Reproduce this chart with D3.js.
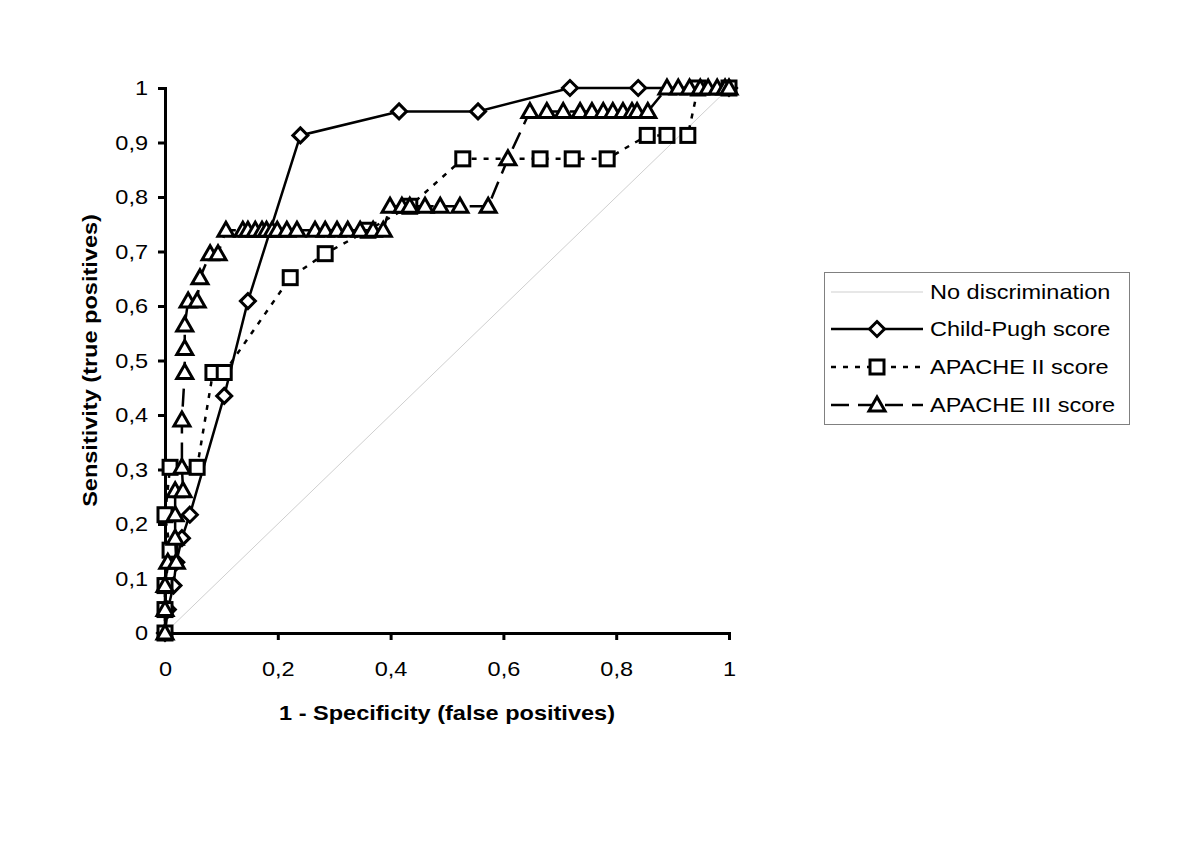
<!DOCTYPE html>
<html>
<head>
<meta charset="utf-8">
<script src="https://cdn.jsdelivr.net/npm/d3@7"></script>
<style>
  body { margin: 0; background: #fff; }
  text { font-family: "Liberation Sans", Arial, sans-serif; }
</style>
</head>
<body>
<script>
// ROC points (x = 1 - specificity, y = sensitivity)
const childPughX = [0, 0.005, 0.015, 0.02, 0.03, 0.044, 0.105, 0.147, 0.24, 0.415, 0.555, 0.718, 0.839, 1];
const childPughY = [0, 0.043, 0.087, 0.13, 0.174, 0.217, 0.435, 0.609, 0.913, 0.957, 0.957, 1, 1, 1];

const apache2X = [0, 0, 0, 0.009, 0, 0.009, 0.057, 0.085, 0.105, 0.222, 0.284, 0.36, 0.434, 0.528, 0.665, 0.722, 0.784, 0.855, 0.89, 0.927, 0.945, 1];
const apache2Y = [0, 0.043, 0.087, 0.152, 0.217, 0.304, 0.304, 0.478, 0.478, 0.652, 0.696, 0.739, 0.783, 0.87, 0.87, 0.87, 0.87, 0.913, 0.913, 0.913, 1, 1];

const apache3X = [0, 0, 0, 0.005, 0.02, 0.018, 0.018, 0.018, 0.032, 0.03, 0.03, 0.035, 0.035, 0.035, 0.041, 0.057, 0.062, 0.08, 0.094,
  0.108, 0.138, 0.147, 0.16, 0.172, 0.18, 0.19, 0.199, 0.216, 0.234, 0.266, 0.284, 0.305, 0.324, 0.346, 0.369, 0.387,
  0.399, 0.42, 0.434, 0.461, 0.488, 0.523, 0.573,
  0.608,
  0.647, 0.677, 0.706, 0.736, 0.757, 0.777, 0.794, 0.812, 0.828, 0.837, 0.856,
  0.89, 0.91, 0.93, 0.949, 0.963, 0.979, 0.993, 1];
const apache3Y = [0, 0.043, 0.087, 0.13, 0.13, 0.174, 0.217, 0.261, 0.261, 0.304, 0.391, 0.478, 0.522, 0.565, 0.609, 0.609, 0.652, 0.696, 0.696,
  0.739, 0.739, 0.739, 0.739, 0.739, 0.739, 0.739, 0.739, 0.739, 0.739, 0.739, 0.739, 0.739, 0.739, 0.739, 0.739, 0.739,
  0.783, 0.783, 0.783, 0.783, 0.783, 0.783, 0.783,
  0.87,
  0.957, 0.957, 0.957, 0.957, 0.957, 0.957, 0.957, 0.957, 0.957, 0.957, 0.957,
  1, 1, 1, 1, 1, 1, 1, 1];

const xTicks = [0, 0.2, 0.4, 0.6, 0.8, 1];
const yTicks = [0, 0.1, 0.2, 0.3, 0.4, 0.5, 0.6, 0.7, 0.8, 0.9, 1];
const legendLabels = ["No discrimination", "Child-Pugh score", "APACHE II score", "APACHE III score"];

const width = 1199;
const height = 857;
const marginLeft = 165;
const marginTop = 88;
const plotW = 564;
const plotH = 545;
const stretch = 1.12; // the source text is a bit wider than Liberation Sans

const x = d3.scaleLinear().domain([0, 1]).range([marginLeft, marginLeft + plotW]);
const y = d3.scaleLinear().domain([0, 1]).range([marginTop + plotH, marginTop]);

const fmt = d => d3.format("~g")(d).replace(".", ",");

const svg = d3.select("body").append("svg")
    .attr("width", width)
    .attr("height", height);

function widen(sel) {
  sel.each(function() {
    const w = this.getComputedTextLength();
    d3.select(this).attr("textLength", w * stretch).attr("lengthAdjust", "spacingAndGlyphs");
  });
}

// diagonal reference
svg.append("line")
    .attr("x1", x(0)).attr("y1", y(0))
    .attr("x2", x(1)).attr("y2", y(1))
    .attr("stroke", "#cfcfcf")
    .attr("stroke-width", 1);

// axes
svg.append("g")
    .attr("transform", `translate(0,${y(0)})`)
    .call(d3.axisBottom(x).tickValues(xTicks).tickFormat(fmt).tickSize(7).tickPadding(21))
    .call(g => g.select(".domain").attr("stroke", "#000").attr("stroke-width", 3))
    .call(g => g.selectAll(".tick line").attr("stroke-width", 3))
    .call(g => g.selectAll("text").attr("font-size", 21).attr("fill", "#000")
        .style("font-family", "'Liberation Sans', Arial, sans-serif").call(widen));

svg.append("g")
    .attr("transform", `translate(${x(0)},0)`)
    .call(d3.axisLeft(y).tickValues(yTicks).tickFormat(fmt).tickSize(7).tickPadding(10))
    .call(g => g.select(".domain").attr("stroke", "#000").attr("stroke-width", 3))
    .call(g => g.selectAll(".tick line").attr("stroke-width", 3))
    .call(g => g.selectAll("text").attr("font-size", 21).attr("fill", "#000")
        .style("font-family", "'Liberation Sans', Arial, sans-serif").call(widen));

// axis titles
svg.append("text")
    .attr("x", x(0.5))
    .attr("y", 720)
    .attr("text-anchor", "middle")
    .attr("font-size", 21)
    .attr("font-weight", "bold")
    .text("1 - Specificity (false positives)")
    .call(widen);

svg.append("text")
    .attr("transform", `translate(97,${y(0.5)}) rotate(-90)`)
    .attr("text-anchor", "middle")
    .attr("font-size", 21)
    .attr("font-weight", "bold")
    .text("Sensitivity (true positives)")
    .call(widen);

const dashII = "5 7";
const dashIII = "18 9";

const series = [
  { xs: childPughX, ys: childPughY, dash: null, shape: "diamond" },
  { xs: apache2X, ys: apache2Y, dash: dashII, shape: "square" },
  { xs: apache3X, ys: apache3Y, dash: dashIII, shape: "triangle" }
];

function marker(g, shape, cx, cy) {
  if (shape === "diamond") {
    g.append("path").attr("d", `M${cx},${cy - 7.5}L${cx + 7.5},${cy}L${cx},${cy + 7.5}L${cx - 7.5},${cy}Z`);
  } else if (shape === "square") {
    g.append("rect").attr("x", cx - 7).attr("y", cy - 7).attr("width", 14).attr("height", 14);
  } else {
    g.append("path").attr("d", `M${cx},${cy - 8}L${cx + 8},${cy + 6}L${cx - 8},${cy + 6}Z`);
  }
}

series.forEach(s => {
  const pts = s.xs.map((v, i) => [v, s.ys[i]]);
  svg.append("path")
      .datum(pts)
      .attr("fill", "none")
      .attr("stroke", "#000")
      .attr("stroke-width", 2.5)
      .attr("stroke-dasharray", s.dash)
      .attr("d", d3.line().x(d => x(d[0])).y(d => y(d[1])));
  const mg = svg.append("g")
      .attr("fill", "#fff")
      .attr("stroke", "#000")
      .attr("stroke-width", 3);
  pts.forEach(d => marker(mg, s.shape, x(d[0]), y(d[1])));
});

// legend
const legend = svg.append("g");
legend.append("rect")
    .attr("x", 824.5).attr("y", 272.5)
    .attr("width", 305).attr("height", 152)
    .attr("fill", "#fff")
    .attr("stroke", "#808080")
    .attr("stroke-width", 1);

const rowY = [292, 329, 367, 405];
const legendStyle = [
  { stroke: "#cfcfcf", w: 1, dash: null, shape: null },
  { stroke: "#000", w: 2.5, dash: null, shape: "diamond" },
  { stroke: "#000", w: 2.5, dash: dashII, shape: "square" },
  { stroke: "#000", w: 2.5, dash: dashIII, shape: "triangle" }
];

legendLabels.forEach((label, i) => {
  const st = legendStyle[i];
  legend.append("line")
      .attr("x1", 831).attr("x2", 923)
      .attr("y1", rowY[i]).attr("y2", rowY[i])
      .attr("stroke", st.stroke)
      .attr("stroke-width", st.w)
      .attr("stroke-dasharray", st.dash);
  if (st.shape) {
    const mg = legend.append("g").attr("fill", "#fff").attr("stroke", "#000").attr("stroke-width", 3);
    marker(mg, st.shape, 877, rowY[i]);
  }
  legend.append("text")
      .attr("x", 930)
      .attr("y", rowY[i] + 7)
      .attr("font-size", 21)
      .attr("fill", "#000")
      .text(label)
      .call(widen);
});
</script>
</body>
</html>
